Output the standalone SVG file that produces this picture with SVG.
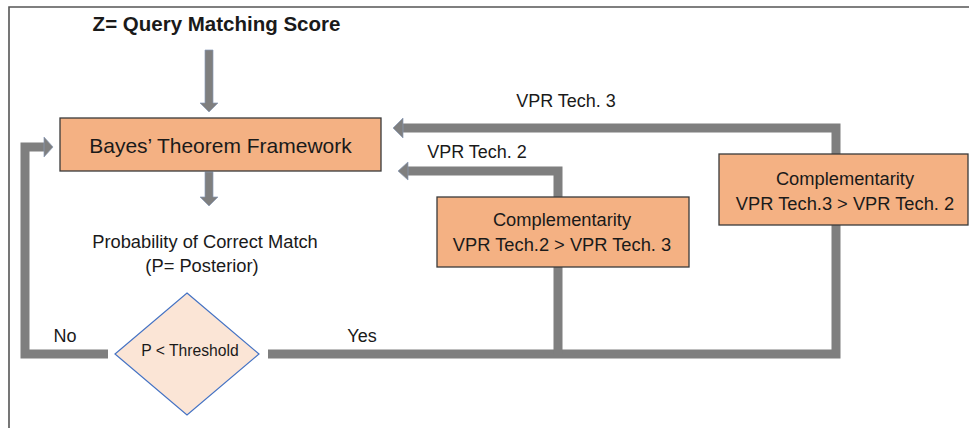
<svg xmlns="http://www.w3.org/2000/svg" width="969" height="428" viewBox="0 0 969 428">
  <style>
    .txt { font-family: "Liberation Sans", Arial, sans-serif; fill: #1a1a1a; text-anchor: middle; }
    .title { font-size: 20.5px; font-weight: bold; }
    .big { font-size: 21px; }
    .mid { font-size: 18.3px; }
    .lbl { font-size: 18px; }
    .sm { font-size: 15.7px; }
    .box { fill: #F4B183; stroke: #3a3a3a; stroke-width: 1.3; }
    .dec { fill: #FBE5D6; stroke: #4472C4; stroke-width: 1.2; }
    .pipe { fill: none; stroke: #7F7F7F; stroke-width: 9; stroke-linejoin: miter; }
    .head { fill: #7F7F7F; stroke: #8A9BB8; stroke-width: 0.7; }
  </style>

  <!-- outer frame -->
  <path d="M9,428 V7 H969" fill="none" stroke="#555" stroke-width="1.6"/>

  <!-- connectors -->
  <g id="connectors">
    <!-- score into framework -->
    <polygon class="head" points="205,50 213,50 213,103 218,103 209,112 200,103 205,103"/>
    <!-- framework to posterior -->
    <polygon class="head" points="205,172 213,172 213,197 218,197 209,206 200,197 205,197"/>
    <!-- No: loop back to framework -->
    <path class="pipe" d="M108,354 H25 V147 H45"/>
    <polygon class="head" points="44,137 53,147 44,157"/>
    <!-- Yes: to both complementarity branches -->
    <path class="pipe" d="M268,354 H836 V128 H402"/>
    <polygon class="head" points="403,118 393,128 403,138"/>
    <path class="pipe" d="M558,354 V171 H407"/>
    <polygon class="head" points="408,162 398,171 408,180"/>
  </g>

  <g id="title">
    <text class="txt title" x="216.5" y="31">Z= Query Matching Score</text>
  </g>

  <g id="bayes">
    <rect class="box" x="60" y="118" width="321" height="53"/>
    <text class="txt big" x="220.5" y="152.5">Bayes’ Theorem Framework</text>
  </g>

  <g id="posterior">
    <text class="txt mid" x="205" y="248">Probability of Correct Match</text>
    <text class="txt mid" x="202" y="272">(P= Posterior)</text>
  </g>

  <g id="threshold">
    <polygon class="dec" points="187,293 259,354 187,415 115,354"/>
    <text class="txt sm" x="190" y="356">P &lt; Threshold</text>
  </g>

  <g id="labels">
    <text class="txt lbl" x="65" y="342">No</text>
    <text class="txt lbl" x="362" y="342">Yes</text>
    <text class="txt lbl" x="566" y="107">VPR Tech. 3</text>
    <text class="txt lbl" x="477" y="158">VPR Tech. 2</text>
  </g>

  <g id="comp23">
    <rect class="box" x="437" y="197" width="252" height="70"/>
    <text class="txt mid" x="562" y="226">Complementarity</text>
    <text class="txt mid" x="562" y="251">VPR Tech.2 &gt; VPR Tech. 3</text>
  </g>

  <g id="comp32">
    <rect class="box" x="719" y="154" width="249" height="71"/>
    <text class="txt mid" x="845" y="185">Complementarity</text>
    <text class="txt mid" x="845" y="210">VPR Tech.3 &gt; VPR Tech. 2</text>
  </g>
</svg>
